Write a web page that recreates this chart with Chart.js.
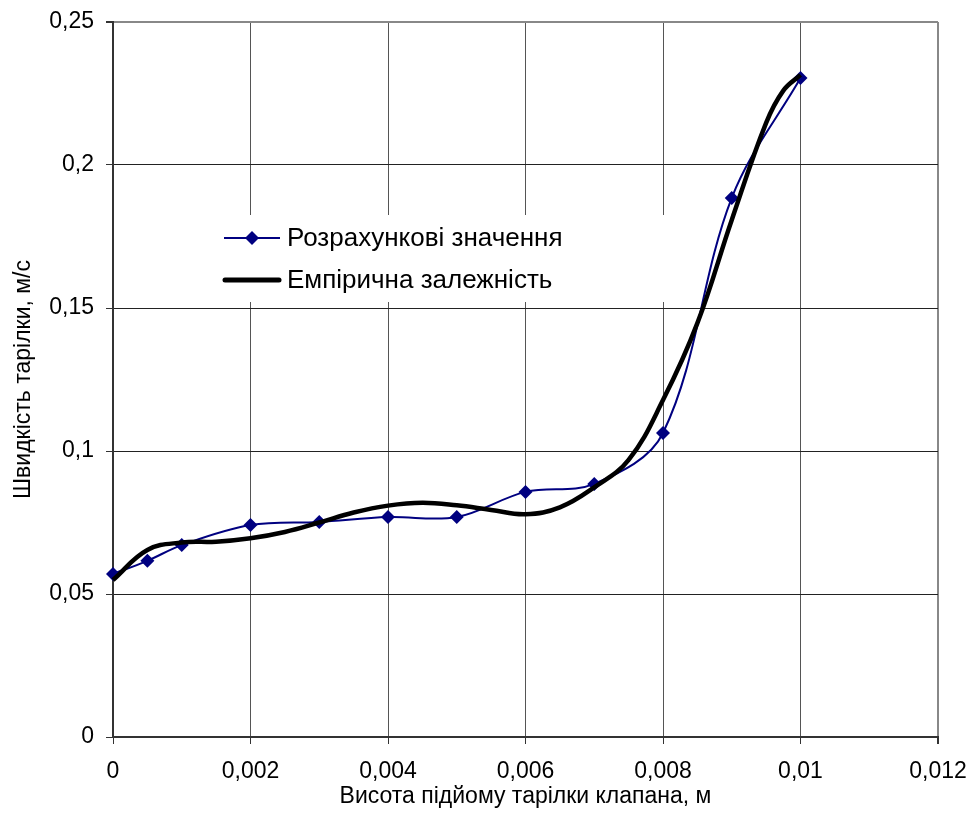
<!DOCTYPE html>
<html>
<head>
<meta charset="utf-8">
<script src="https://cdn.jsdelivr.net/npm/chart.js@4/dist/chart.umd.min.js"></script>
<style>
  body { margin: 0; background: #fff; }
  #wrap { width: 975px; height: 814px; }
</style>
</head>
<body>
<div id="wrap"><canvas id="chart" width="975" height="814"></canvas></div>
<script>
// Calculated values (blue diamonds)
const calcX = [0, 0.0005, 0.001, 0.002, 0.003, 0.004, 0.005, 0.006, 0.007, 0.008, 0.009, 0.01];
const calcY = [0.057, 0.0616, 0.0671, 0.0741, 0.0752, 0.0769, 0.0769, 0.0857, 0.0885, 0.1063, 0.1885, 0.2304];

const empX = [0, 0.0005, 0.001, 0.0015, 0.002, 0.0025, 0.003, 0.0035, 0.004, 0.0045, 0.005, 0.0055, 0.006, 0.0065, 0.007, 0.0075, 0.008, 0.0085, 0.009, 0.0095, 0.00975, 0.01];
const empY = [0.0549, 0.0654, 0.068, 0.0683, 0.0695, 0.0717, 0.075, 0.0785, 0.0809, 0.0819, 0.081, 0.0794, 0.0779, 0.0803, 0.0873, 0.0969, 0.1178, 0.1447, 0.1808, 0.2147, 0.226, 0.2315];

const seriesNames = ['Розрахункові значення', 'Емпірична залежність'];
const xTitle = 'Висота підйому тарілки клапана, м';
const yTitle = 'Швидкість тарілки, м/с';

const FONT = '"Liberation Sans", Arial, sans-serif';

function comma(v) {
    return String(+v.toFixed(4)).replace('.', ',');
}

function toPoints(xs, ys) {
    return xs.map((x, i) => ({ x: x, y: ys[i] }));
}

// draws the axis titles and the legend box inside the plot
const extras = {
    id: 'extras',
    afterDraw(chart) {
        const ctx = chart.ctx;
        const area = chart.chartArea;
        ctx.save();

        // legend
        ctx.fillStyle = '#fff';
        ctx.fillRect(214, 215, 466, 87);
        ctx.font = '26px ' + FONT;
        ctx.textBaseline = 'middle';
        ctx.textAlign = 'left';

        ctx.strokeStyle = '#000080';
        ctx.lineWidth = 2;
        ctx.beginPath();
        ctx.moveTo(224, 238);
        ctx.lineTo(280, 238);
        ctx.stroke();
        ctx.fillStyle = '#000080';
        ctx.beginPath();
        ctx.moveTo(252, 231);
        ctx.lineTo(259, 238);
        ctx.lineTo(252, 245);
        ctx.lineTo(245, 238);
        ctx.closePath();
        ctx.fill();
        ctx.fillStyle = '#000';
        ctx.fillText(seriesNames[0], 287, 239);

        ctx.strokeStyle = '#000';
        ctx.lineWidth = 5;
        ctx.lineCap = 'round';
        ctx.beginPath();
        ctx.moveTo(225, 280);
        ctx.lineTo(279, 280);
        ctx.stroke();
        ctx.fillText(seriesNames[1], 287, 281);

        // axis titles
        ctx.font = '23px ' + FONT;
        ctx.textAlign = 'center';
        ctx.fillText(xTitle, (area.left + area.right) / 2, 797);
        ctx.translate(24, (area.top + area.bottom) / 2);
        ctx.rotate(-Math.PI / 2);
        ctx.fillText(yTitle, 0, 0);
        ctx.restore();
    }
};

new Chart(document.getElementById('chart').getContext('2d'), {
    type: 'line',
    data: {
        datasets: [{
            label: seriesNames[1],
            data: toPoints(empX, empY),
            borderColor: '#000',
            borderWidth: 4.5,
            pointRadius: 0,
            tension: 0.4,
            fill: false,
            clip: false
        }, {
            label: seriesNames[0],
            data: toPoints(calcX, calcY),
            borderColor: '#000080',
            backgroundColor: '#000080',
            borderWidth: 2,
            pointStyle: 'rectRot',
            pointRadius: 7,
            pointBorderWidth: 0,
            tension: 0.35,
            fill: false,
            clip: false
        }]
    },
    options: {
        responsive: false,
        animation: false,
        layout: { padding: { top: 22, right: 37, left: 0, bottom: 0 } },
        plugins: {
            legend: { display: false },
            tooltip: { enabled: false }
        },
        scales: {
            x: {
                type: 'linear',
                min: 0,
                max: 0.012,
                afterFit: s => {
                    s.height = 77;
                    s.paddingLeft = 0;
                    s.paddingRight = 0;
                },
                ticks: {
                    stepSize: 0.002,
                    color: '#000',
                    font: { family: FONT, size: 23 },
                    padding: 14,
                    callback: v => comma(v)
                },
                grid: {
                    color: ctx => ctx.index === 6 ? '#888' : '#555',
                    lineWidth: ctx => ctx.index === 6 ? 2 : 1,
                    tickLength: 7,
                    tickColor: '#333'
                },
                border: { color: '#333', width: 2 }
            },
            y: {
                min: 0,
                max: 0.25,
                afterFit: s => {
                    s.width = 113;
                    s.paddingTop = 0;
                    s.paddingBottom = 0;
                },
                ticks: {
                    stepSize: 0.05,
                    color: '#000',
                    font: { family: FONT, size: 23 },
                    padding: 12,
                    callback: v => comma(v)
                },
                grid: {
                    color: ctx => ctx.index === 5 ? '#888' : '#222',
                    lineWidth: ctx => ctx.index === 5 ? 2 : 1,
                    tickLength: 7,
                    tickColor: '#333'
                },
                border: { color: '#333', width: 2 }
            }
        }
    },
    plugins: [extras]
});
</script>
</body>
</html>
